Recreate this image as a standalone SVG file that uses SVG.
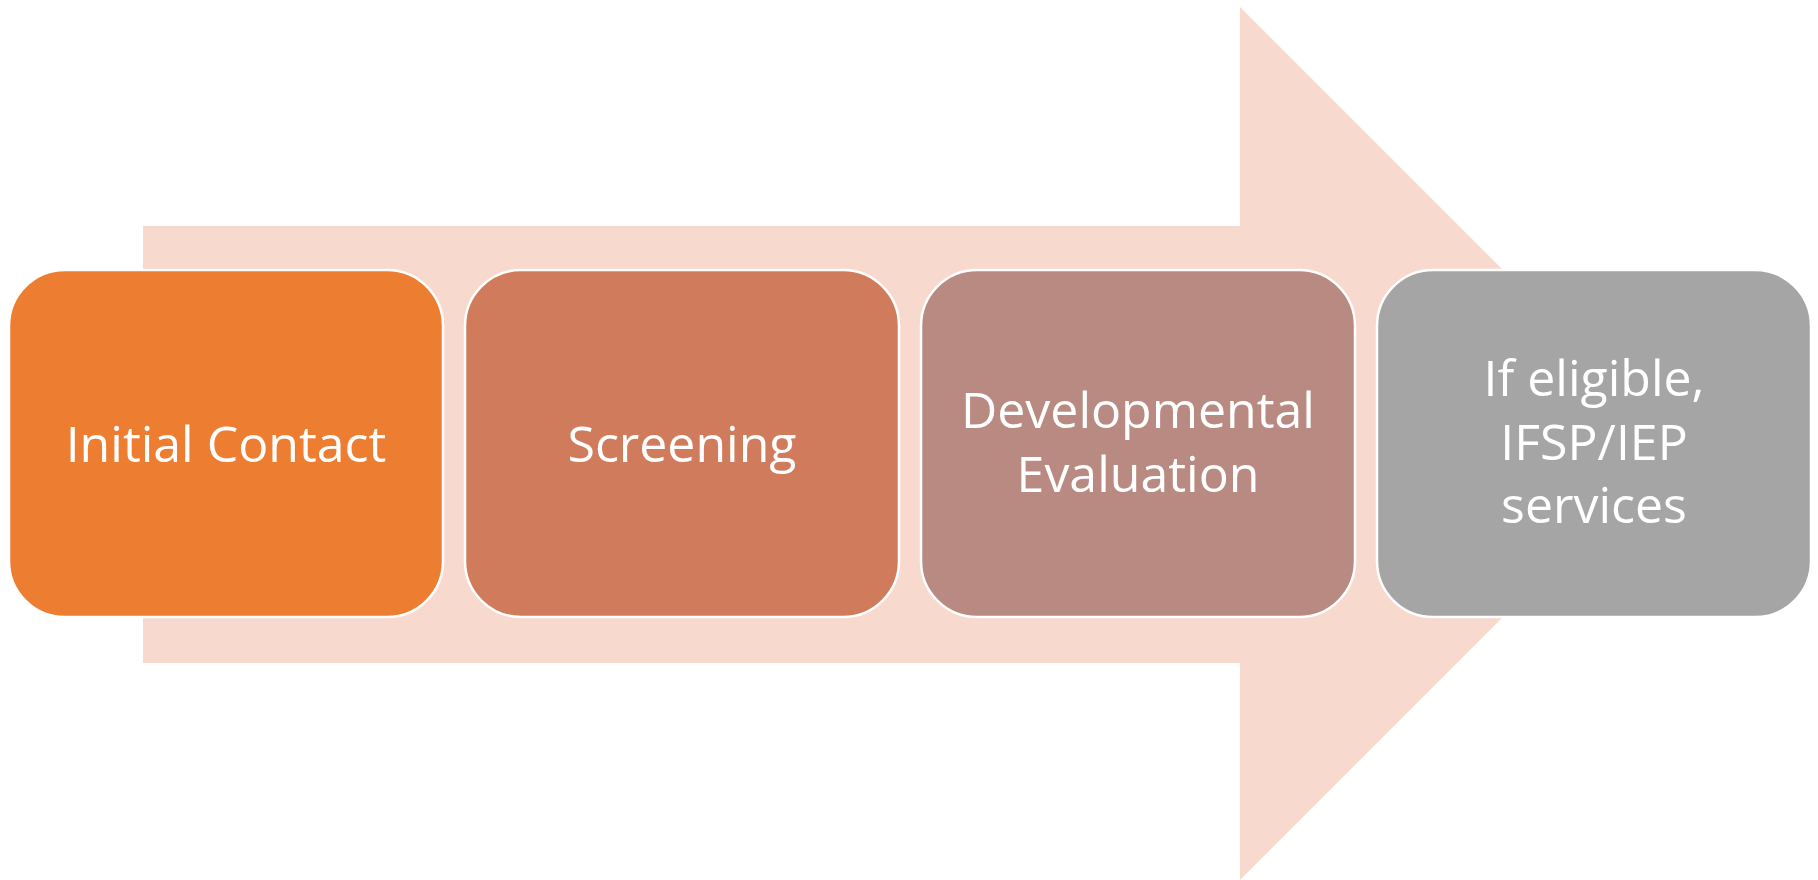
<svg xmlns="http://www.w3.org/2000/svg" width="1818" height="880" viewBox="0 0 1818 880">
<style>
.box{stroke:#ffffff;stroke-width:2.5}
.lbl{font-family:"Open Sans","Noto Sans",sans-serif;font-size:50px;fill:#ffffff;text-anchor:middle}
</style>
<rect width="1818" height="880" fill="#ffffff"/>
<g id="arrow">
<polygon points="143,226 1240,226 1240,7 1676.5,443.5 1240,880 1240,663 143,663" fill="#F8D9CE"/>
</g>
<g id="connectors"></g>
<g id="node1">
<rect class="box" x="9" y="270" width="434" height="347" rx="56" ry="56" fill="#ED7D31"/>
<text class="lbl" x="226" y="462">Initial Contact</text>
</g>
<g id="node2">
<rect class="box" x="465" y="270" width="434" height="347" rx="56" ry="56" fill="#D17B5D"/>
<text class="lbl" x="682" y="462">Screening</text>
</g>
<g id="node3">
<rect class="box" x="921" y="270" width="434" height="347" rx="56" ry="56" fill="#B98A82"/>
<text class="lbl" x="1138" y="428">Developmental</text>
<text class="lbl" x="1138" y="492">Evaluation</text>
</g>
<g id="node4">
<rect class="box" x="1377" y="270" width="434" height="347" rx="56" ry="56" fill="#A5A5A5"/>
<text class="lbl" x="1594" y="396">If eligible,</text>
<text class="lbl" x="1594" y="460">IFSP/IEP</text>
<text class="lbl" x="1594" y="523">services</text>
</g>
</svg>
